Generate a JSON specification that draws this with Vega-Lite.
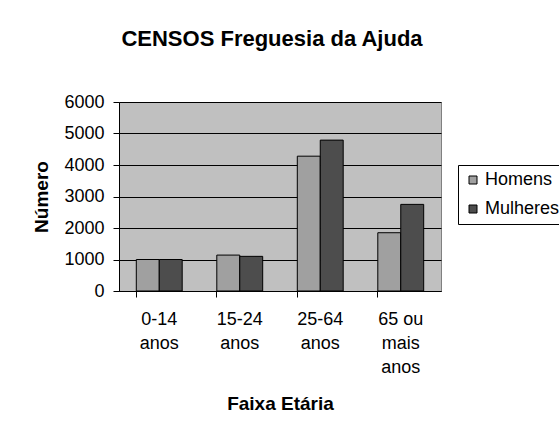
{
  "$schema": "https://vega.github.io/schema/vega-lite/v6.json",
  "width": 322,
  "height": 189,
  "autosize": {"type": "none"},
  "padding": {"left": 119, "top": 102, "right": 118, "bottom": 141},
  "background": "white",
  "title": {
    "text": "CENSOS Freguesia da Ajuda",
    "font": "Liberation Sans",
    "fontSize": 22,
    "fontWeight": "bold",
    "color": "black",
    "anchor": "middle",
    "dx": -8,
    "offset": 42
  },
  "data": {
    "values": [
      {"faixa": "0-14 anos", "sexo": "Homens", "numero": 1000},
      {"faixa": "0-14 anos", "sexo": "Mulheres", "numero": 1000},
      {"faixa": "15-24 anos", "sexo": "Homens", "numero": 1140},
      {"faixa": "15-24 anos", "sexo": "Mulheres", "numero": 1100},
      {"faixa": "25-64 anos", "sexo": "Homens", "numero": 4280},
      {"faixa": "25-64 anos", "sexo": "Mulheres", "numero": 4790},
      {"faixa": "65 ou mais anos", "sexo": "Homens", "numero": 1850},
      {"faixa": "65 ou mais anos", "sexo": "Mulheres", "numero": 2750}
    ]
  },
  "mark": {"type": "bar", "stroke": "black", "strokeWidth": 1},
  "encoding": {
    "x": {
      "field": "faixa",
      "type": "nominal",
      "sort": null,
      "scale": {"paddingInner": 0.43, "paddingOuter": 0.215},
      "axis": {
        "title": "Faixa Etária",
        "titleFont": "Liberation Sans",
        "titleFontSize": 19,
        "titleFontWeight": "bold",
        "titleColor": "black",
        "titlePadding": 18,
        "labelExpr": "datum.label == '65 ou mais anos' ? ['65 ou', 'mais', 'anos'] : split(datum.label, ' ')",
        "labelAngle": 0,
        "labelFont": "Liberation Sans",
        "labelFontSize": 18,
        "labelColor": "black",
        "labelLineHeight": 24,
        "labelPadding": 13,
        "labelBaseline": "top",
        "bandPosition": 0,
        "ticks": true,
        "tickSize": 6,
        "tickColor": "black",
        "domainColor": "black",
        "grid": false
      }
    },
    "xOffset": {"field": "sexo", "type": "nominal", "scale": {"paddingInner": 0, "paddingOuter": 0}},
    "y": {
      "field": "numero",
      "type": "quantitative",
      "scale": {"domain": [0, 6000], "nice": false},
      "axis": {
        "title": "Número",
        "titleFont": "Liberation Sans",
        "titleFontSize": 19,
        "titleFontWeight": "bold",
        "titleColor": "black",
        "titlePadding": 12,
        "values": [0, 1000, 2000, 3000, 4000, 5000, 6000],
        "format": "d",
        "labelFont": "Liberation Sans",
        "labelFontSize": 18,
        "labelColor": "black",
        "labelPadding": 9,
        "tickSize": 6,
        "tickColor": "black",
        "domainColor": "black",
        "grid": true,
        "gridColor": "black",
        "gridOpacity": 1,
        "gridWidth": 1
      }
    },
    "color": {
      "field": "sexo",
      "type": "nominal",
      "scale": {"domain": ["Homens", "Mulheres"], "range": ["#A0A0A0", "#4D4D4D"]},
      "legend": {
        "title": null,
        "orient": "none",
        "legendX": 339,
        "legendY": 63,
        "symbolType": "square",
        "symbolSize": 64,
        "symbolStrokeColor": "black",
        "symbolStrokeWidth": 1,
        "symbolOpacity": 1,
        "labelFont": "Liberation Sans",
        "labelFontSize": 18,
        "labelColor": "black",
        "labelOffset": 3,
        "rowPadding": 11,
        "padding": 6,
        "strokeColor": "black",
        "fillColor": "white"
      }
    }
  },
  "config": {
    "view": {"fill": "#C0C0C0", "stroke": "#808080", "strokeWidth": 1},
    "axis": {"domainWidth": 1, "tickWidth": 1}
  }
}
